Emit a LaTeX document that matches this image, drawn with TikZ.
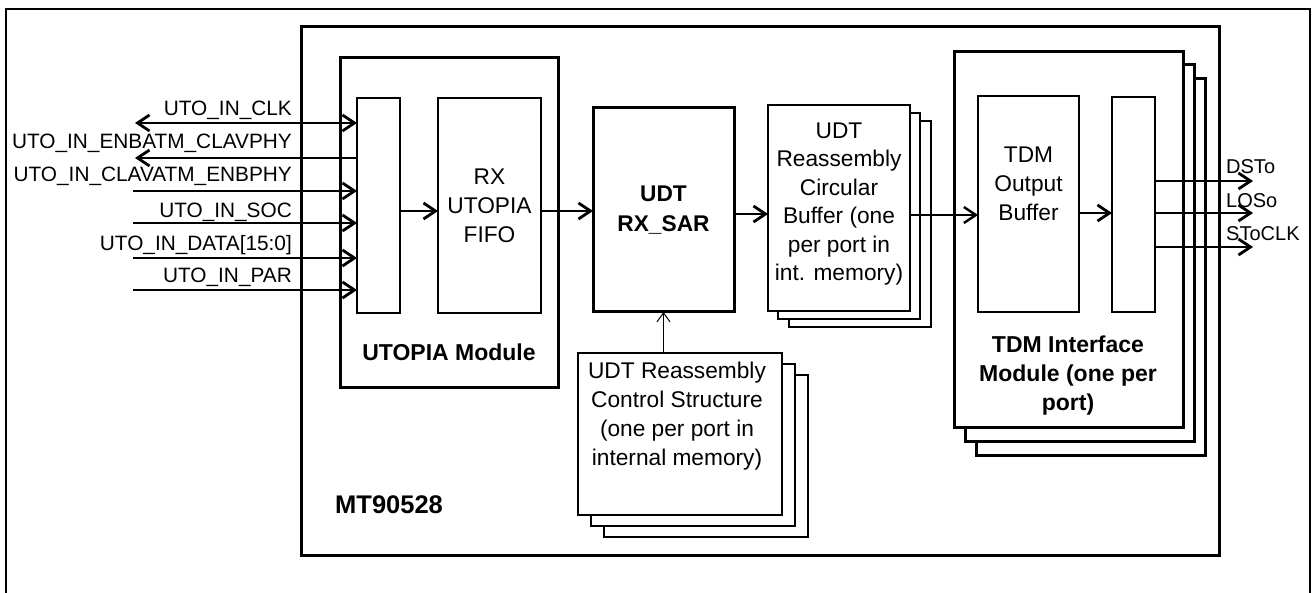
\documentclass[tikz,border=0pt]{standalone}
\usepackage{fontspec}
\setmainfont{Liberation Sans}
\usetikzlibrary{arrows.meta}
\begin{document}
\begin{tikzpicture}[x=1pt,y=-1pt,
  box/.style={draw, fill=white, anchor=north west, inner sep=0pt, outer sep=0pt, line width=#1},
  box/.default=2.8pt,
  boxtext/.style={align=center, inner sep=0pt, font=\fontsize{22.7}{29}\selectfont},
  boldtext/.style={align=center, inner sep=0pt, font=\fontsize{23}{29}\selectfont\bfseries},
  siglabel/.style={inner sep=0pt, anchor=base east, font=\fontsize{20.8}{24}\selectfont},
  outlabel/.style={inner sep=0pt, anchor=base west, font=\fontsize{20}{24}\selectfont},
  tipsty/.tip={Straight Barb[length=12pt,width=16pt]},
  arr/.style={line width=2.8pt, -tipsty},
  biarr/.style={line width=2.8pt, tipsty-tipsty},
  thinarr/.style={line width=1pt, -{Straight Barb[length=9pt,width=13pt]}}
]
\useasboundingbox (0,0) rectangle (1312,593);
% outer frame (open at the bottom)
\draw[line width=2pt] (6,593) -- (6,9) -- (1310,9) -- (1310,593);
% MT90528 frame
\node[box=3pt, minimum width=918pt, minimum height=528pt] (mt) at (301,27) {};
\node[inner sep=0pt, anchor=west, font=\fontsize{25.5}{30}\selectfont\bfseries] (mtlabel) at (335,505) {MT90528};
% UTOPIA module
\node[box=3pt, minimum width=218pt, minimum height=330pt] (utm) at (340,58) {};
\node[box=2pt, minimum width=43pt, minimum height=215pt] (uin) at (357,98) {};
\node[box=2pt, minimum width=103pt, minimum height=215pt] (fifo) at (438,98) {};
\node[boxtext] (fifotxt) at (fifo.center) {RX\\UTOPIA\\FIFO};
\node[boldtext] (utmtxt) at (449,352) {UTOPIA Module};
% UDT RX_SAR
\node[box=3pt, minimum width=141pt, minimum height=204pt] (sar) at (593,108) {};
\node[boxtext, font=\fontsize{22.7}{30}\selectfont\bfseries] (sartxt) at (sar.center) {UDT\\RX\_SAR};
% circular buffer stack
\node[box=2.8pt, minimum width=142pt, minimum height=206pt] (buf3) at (789,121) {};
\node[box=2.8pt, minimum width=142pt, minimum height=206pt] (buf2) at (778,113) {};
\node[box=2.8pt, minimum width=142pt, minimum height=206pt] (buf) at (768,105) {};
\node[boxtext, font=\fontsize{22.7}{28.4}\selectfont] (buftxt) at (839,204) {UDT\\Reassembly\\Circular\\Buffer (one\\per port in\\int. memory)};
% control structure stack
\node[box=2.8pt, minimum width=204pt, minimum height=162pt] (ctl3) at (604,375) {};
\node[box=2.8pt, minimum width=204pt, minimum height=162pt] (ctl2) at (591,364) {};
\node[box=2.8pt, minimum width=204pt, minimum height=162pt] (ctl) at (578,353) {};
\node[boxtext] (ctltxt) at (677,416) {UDT Reassembly\\Control Structure\\(one per port in\\internal memory)};
% TDM interface stack
\node[box=3pt, minimum width=229pt, minimum height=376pt] (tdm3) at (976,79) {};
\node[box=3pt, minimum width=229pt, minimum height=376pt] (tdm2) at (965,65) {};
\node[box=3pt, minimum width=229pt, minimum height=376pt] (tdm) at (954,52) {};
\node[box=2pt, minimum width=101pt, minimum height=216pt] (tob) at (978,96) {};
\node[boxtext] (tobtxt) at (1028.5,184) {TDM\\Output\\Buffer};
\node[box=2pt, minimum width=43pt, minimum height=215pt] (tout) at (1112,97) {};
\node[boldtext] (tdmtxt) at (1068,376) {TDM Interface\\Module (one per\\port)};
% left signals
\coordinate (s1) at (135,123);
\coordinate (s2) at (135,158);
\coordinate (s3) at (133,191);
\coordinate (s4) at (133,223);
\coordinate (s5) at (133,258);
\coordinate (s6) at (133,290);
\node[siglabel] (l1) at (292,115.5) {UTO\_IN\_CLK};
\node[siglabel] (l2) at (292,148.5) {UTO\_IN\_ENBATM\_CLAVPHY};
\node[siglabel] (l3) at (292,182) {UTO\_IN\_CLAVATM\_ENBPHY};
\node[siglabel] (l4) at (292,217.5) {UTO\_IN\_SOC};
\node[siglabel] (l5) at (292,250.5) {UTO\_IN\_DATA[15:0]};
\node[siglabel] (l6) at (292,283) {UTO\_IN\_PAR};
\draw[biarr] (s1) -- (s1 -| uin.west);
\draw[arr] ([xshift=1pt]s2 -| uin.west) -- (s2);
\draw[arr] (s3) -- (s3 -| uin.west);
\draw[arr] (s4) -- (s4 -| uin.west);
\draw[arr] (s5) -- (s5 -| uin.west);
\draw[arr] (s6) -- (s6 -| uin.west);
% internal data path
\coordinate (a1) at (0,211);
\coordinate (a2) at (0,214);
\coordinate (a3) at (0,215);
\coordinate (a4) at (0,213);
\draw[arr] (uin.east |- a1) -- (fifo.west |- a1);
\draw[arr] (fifo.east |- a1) -- (sar.west |- a1);
\draw[arr] (sar.east |- a2) -- (buf.west |- a2);
\draw[arr, line width=2.4pt] (buf.east |- a3) -- (tob.west |- a3);
\draw[arr] (tob.east |- a4) -- (tout.west |- a4);
\draw[thinarr] (ctl.north -| sar.south) -- (sar.south);
% outputs
\coordinate (o1) at (1253,181);
\coordinate (o2) at (1253,213);
\coordinate (o3) at (1253,247);
\draw[arr] (tout.east |- o1) -- (o1);
\draw[arr] (tout.east |- o2) -- (o2);
\draw[arr] (tout.east |- o3) -- (o3);
\node[outlabel] (r1) at (1226,174) {DSTo};
\node[outlabel] (r2) at (1226,207.5) {LOSo};
\node[outlabel] (r3) at (1226,240.5) {SToCLK};
\end{tikzpicture}
\end{document}
